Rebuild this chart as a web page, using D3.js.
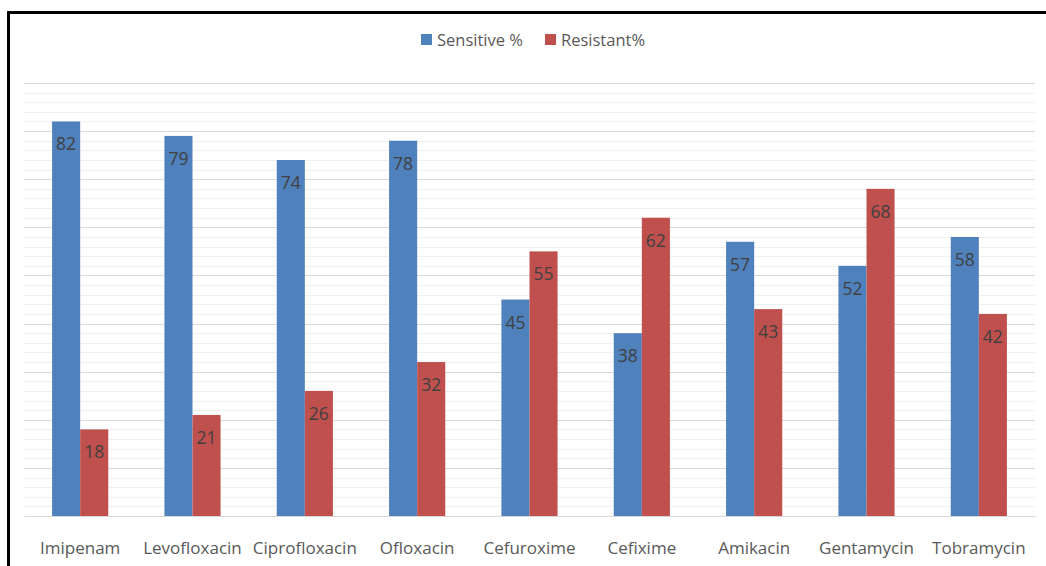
<!DOCTYPE html>
<html>
<head>
<meta charset="utf-8">
<script src="https://cdn.jsdelivr.net/npm/d3@7"></script>
<style>
  html, body { margin: 0; padding: 0; background: #fff; }
  svg { display: block; }
</style>
</head>
<body>
<svg id="chart" width="1046" height="566"></svg>
<script>
// Antibiotic susceptibility: sensitive vs resistant share per drug
const categories = ["Imipenam", "Levofloxacin", "Ciprofloxacin", "Ofloxacin", "Cefuroxime", "Cefixime", "Amikacin", "Gentamycin", "Tobramycin"];
const sensitive = [82, 79, 74, 78, 45, 38, 57, 52, 58];
const resistant = [18, 21, 26, 32, 55, 62, 43, 68, 42];
const seriesNames = ["Sensitive %", "Resistant%"];
const seriesColors = ["#4f81bd", "#c0504d"];
const majorTicks = d3.range(0, 91, 10);
const minorTicks = d3.range(0, 91, 2).filter(v => v % 10 !== 0);

const svg = d3.select("#chart");
const W = 1046, H = 566;
const plot = { left: 24, right: 1035, top: 83, bottom: 516 };
const font = "'Open Sans', sans-serif";

// frame: only the left and top edges fall inside the view
svg.append("path")
  .attr("d", `M8.5,${H} V12.5 H${W}`)
  .attr("fill", "none")
  .attr("stroke", "#000")
  .attr("stroke-width", 3);

const x0 = d3.scaleBand().domain(categories).range([plot.left, plot.right]).paddingInner(0).paddingOuter(0);
const x1 = d3.scaleBand().domain(seriesNames).range([x0.bandwidth() * 0.25, x0.bandwidth() * 0.75]);
const y = d3.scaleLinear().domain([0, 90]).range([plot.bottom, plot.top]);

// gridlines
const grid = svg.append("g");
grid.selectAll("line.minor").data(minorTicks).join("line")
  .attr("class", "minor")
  .attr("x1", plot.left).attr("x2", plot.right)
  .attr("y1", d => Math.round(y(d)) + 0.5).attr("y2", d => Math.round(y(d)) + 0.5)
  .attr("stroke", "#f0f0f0").attr("stroke-width", 1.2);
grid.selectAll("line.major").data(majorTicks.filter(d => d > 0)).join("line")
  .attr("class", "major")
  .attr("x1", plot.left).attr("x2", plot.right)
  .attr("y1", d => Math.round(y(d)) + 0.5).attr("y2", d => Math.round(y(d)) + 0.5)
  .attr("stroke", "#d9d9d9").attr("stroke-width", 1.2);

// bars
const rows = categories.map((c, i) => ({ cat: c, vals: [sensitive[i], resistant[i]] }));
const groups = svg.append("g").selectAll("g").data(rows).join("g")
  .attr("transform", d => `translate(${x0(d.cat)},0)`);

groups.selectAll("rect").data(d => d.vals.map((v, j) => ({ name: seriesNames[j], v, j }))).join("rect")
  .attr("x", d => x1(d.name))
  .attr("width", x1.bandwidth())
  .attr("y", d => y(d.v))
  .attr("height", d => y(0) - y(d.v))
  .attr("fill", d => seriesColors[d.j]);

groups.selectAll("text").data(d => d.vals.map((v, j) => ({ name: seriesNames[j], v, j }))).join("text")
  .attr("x", d => x1(d.name) + x1.bandwidth() / 2)
  .attr("y", d => y(d.v) + 29)
  .attr("text-anchor", "middle")
  .attr("font-family", font)
  .attr("font-size", 17.5)
  .attr("fill", "#404040")
  .text(d => d.v);

// category axis
const xAxis = svg.append("g")
  .attr("transform", `translate(0,${plot.bottom})`)
  .call(d3.axisBottom(x0).tickSize(0).tickPadding(0));
xAxis.select(".domain").attr("stroke", "#d9d9d9").attr("stroke-width", 1.2);
xAxis.selectAll("text")
  .attr("y", 38)
  .attr("dy", 0)
  .attr("font-family", font)
  .attr("font-size", 17)
  .attr("fill", "#595959");

// legend
const legend = svg.append("g").attr("transform", "translate(421,40)");
const legendX = [0, 124];
seriesNames.forEach((n, i) => {
  const g = legend.append("g").attr("transform", `translate(${legendX[i]},0)`);
  g.append("rect").attr("x", 0).attr("y", -6).attr("width", 11).attr("height", 11).attr("fill", seriesColors[i]);
  g.append("text").attr("x", 16).attr("y", 6)
    .attr("font-family", font).attr("font-size", 16.5)
    .attr("fill", "#595959").text(n);
});
</script>
</body>
</html>
